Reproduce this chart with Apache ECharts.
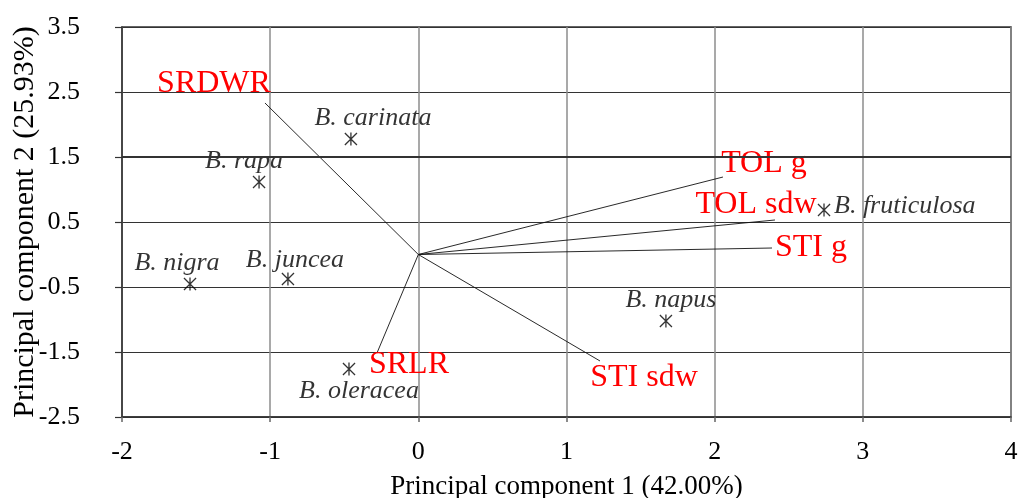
<!DOCTYPE html>
<html><head><meta charset="utf-8">
<script src="https://cdn.jsdelivr.net/npm/echarts@6/dist/echarts.min.js"></script>
<style>html,body{margin:0;padding:0;background:#fff}#c{width:1023px;height:498px}</style>
</head><body><div id="c"></div>
<script>
// ---- data ----
const xTicks = [-2, -1, 0, 1, 2, 3, 4];
const yTicks = [-2.5, -1.5, -0.5, 0.5, 1.5, 2.5, 3.5];
const speciesNames = ['B. carinata', 'B. rapa', 'B. nigra', 'B. juncea', 'B. oleracea', 'B. fruticulosa', 'B. napus'];
const speciesPC1 = [-0.455, -1.075, -1.541, -0.880, -0.468, 2.738, 1.671];
const speciesPC2 = [1.777, 1.115, -0.454, -0.377, -1.762, 0.685, -1.023];
const traitNames = ['SRDWR', 'TOL g', 'TOL sdw', 'STI g', 'STI sdw', 'SRLR'];
const traitPC1 = [-1.035, 2.056, 2.407, 2.387, 1.226, -0.279];
const traitPC2 = [2.331, 1.192, 0.531, 0.100, -1.638, -1.515];
const xTitle = 'Principal component 1 (42.00%)';
const yTitle = 'Principal component 2 (25.93%)';

// ---- label layout (pixel offsets relative to the mark) ----
const speciesLabelLayout = {
  'B. carinata': {offset: [22, -21], align: 'center'},
  'B. rapa': {offset: [-15, -21], align: 'center'},
  'B. nigra': {offset: [-13, -21], align: 'center'},
  'B. juncea': {offset: [7, -19], align: 'center'},
  'B. oleracea': {offset: [10, 22], align: 'center'},
  'B. fruticulosa': {offset: [10, -4], align: 'left'},
  'B. napus': {offset: [5, -21], align: 'center'}
};
const traitLabelLayout = {
  'SRDWR': [-51, -19],
  'TOL g': [41, -13],
  'TOL sdw': [-19, -15],
  'STI g': [39, 0],
  'STI sdw': [44, 17],
  'SRLR': [32, 12]
};

const FONT = '"Liberation Serif", "Times New Roman", serif';
const starPath = 'path://M45 0H55V100H45Z M0 7L7 0L100 93L93 100Z M93 0L100 7L7 100L0 93Z';

const chart = echarts.init(document.getElementById('c'), null, {renderer: 'canvas'});

const traitSeries = traitNames.map((n, i) => ({
  type: 'line',
  name: n,
  silent: true,
  animation: false,
  symbol: 'circle',
  symbolSize: 0,
  showSymbol: true,
  lineStyle: {color: '#111', width: 0.9},
  itemStyle: {color: 'rgba(0,0,0,0)'},
  data: [
    {value: [0, 0], label: {show: false}},
    {value: [traitPC1[i], traitPC2[i]], label: {
      show: true, position: 'inside', formatter: n,
      offset: traitLabelLayout[n], align: 'center', verticalAlign: 'middle',
      color: '#ff0000', fontFamily: FONT, fontSize: 32
    }}
  ],
  z: 3
}));

const option = {
  animation: false,
  backgroundColor: '#fff',
  grid: {left: 122, right: 12, top: 27, bottom: 81, show: true, borderColor: '#333', borderWidth: 1.5,
         containLabel: false, outerBoundsMode: 'none'},
  xAxis: {
    type: 'value', min: xTicks[0], max: xTicks[xTicks.length - 1], interval: 1,
    name: xTitle, nameLocation: 'middle', nameGap: 56, nameMoveOverlap: false,
    nameTextStyle: {fontFamily: FONT, fontSize: 27, color: '#000'},
    axisLine: {show: true, onZero: false, lineStyle: {color: '#333', width: 1.5}},
    axisTick: {show: true, length: 5, lineStyle: {color: '#666', width: 1.5}},
    axisLabel: {fontFamily: FONT, fontSize: 26, color: '#000', margin: 22},
    splitLine: {show: true, lineStyle: {color: '#8c8c8c', width: 1.5}}
  },
  yAxis: {
    type: 'value', min: yTicks[0], max: yTicks[yTicks.length - 1], interval: 1,
    name: yTitle, nameLocation: 'middle', nameGap: 82, nameMoveOverlap: false,
    nameTextStyle: {fontFamily: FONT, fontSize: 30, color: '#000'},
    axisLine: {show: true, onZero: false, lineStyle: {color: '#333', width: 1.5}},
    axisTick: {show: true, length: 7, lineStyle: {color: '#333', width: 1.2}},
    axisLabel: {fontFamily: FONT, fontSize: 26, color: '#000', margin: 42},
    splitLine: {show: true, lineStyle: {color: '#333', width: 1.2}}
  },
  series: traitSeries.concat([{
    type: 'scatter',
    name: 'species',
    silent: true,
    symbol: starPath,
    symbolSize: 13,
    itemStyle: {color: '#000'},
    z: 4,
    data: speciesNames.map((n, i) => ({
      name: n,
      value: [speciesPC1[i], speciesPC2[i]],
      label: {
        show: true, position: 'inside', formatter: n,
        offset: speciesLabelLayout[n].offset, align: speciesLabelLayout[n].align,
        verticalAlign: 'middle', color: '#000', fontFamily: FONT,
        fontStyle: 'italic', fontSize: 26
      }
    })),
    markLine: {
      silent: true, symbol: 'none', animation: false,
      label: {show: false},
      lineStyle: {color: '#333', width: 2.2, type: 'solid'},
      data: [{yAxis: 1.5}]
    }
  }])
};
chart.setOption(option);
</script>
</body></html>
